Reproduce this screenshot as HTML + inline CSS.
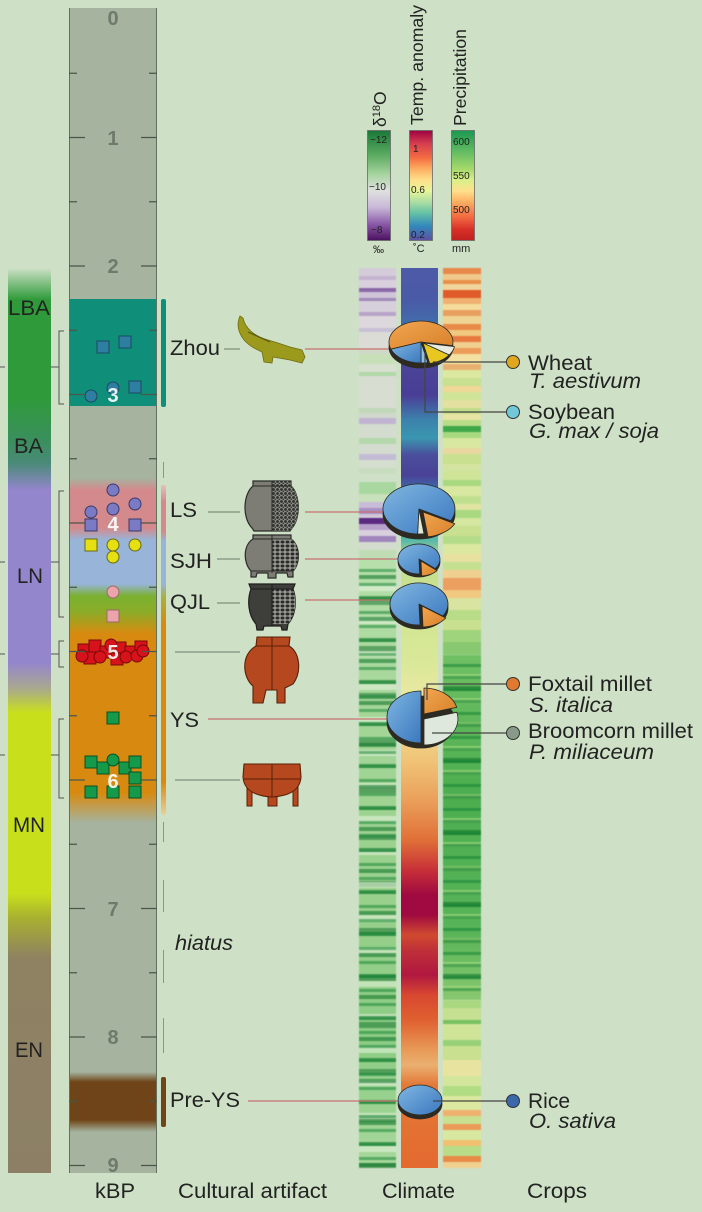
<!DOCTYPE html>
<html><head><meta charset="utf-8">
<style>
html,body{margin:0;padding:0;}
body{width:702px;height:1212px;background:#cee0c6;position:relative;overflow:hidden;font-family:"Liberation Sans",sans-serif;}
.a{position:absolute;}
.s{filter:blur(0.6px);}
</style></head><body>

<!-- era bar -->
<div class="a" style="left:8px;top:268px;width:43px;height:905px;background:linear-gradient(to bottom,#cee0c6 0px,#2e9a3a 32px,#2e9a3a 130px,#3a8f5c 172px,#4a8a78 195px,#9486cc 222px,#9486cc 395px,#a8a890 420px,#c8e01c 445px,#c8e01c 625px,#a8b030 650px,#8f8262 690px,#8c7f66 905px);"></div>

<!-- kBP column -->
<div class="a" style="left:69px;top:8px;width:88px;height:1165px;box-sizing:border-box;border-left:1px solid #62705f;border-right:1px solid #62705f;background:linear-gradient(to bottom,#a5b39f 0,#a5b39f 291px,#0f8f7a 291px,#0f8f7a 398px,#a5b39f 398px,#a5b39f 470px,#d48a8c 482px,#d48a8c 520px,#98b4d8 532px,#98b4d8 576px,#7ab030 588px,#8cac28 604px,#d88a10 626px,#d88a10 785px,#a5b39f 815px,#a5b39f 1064px,#6e4418 1074px,#6e4418 1112px,#a5b39f 1124px);"></div>

<!-- d18O column -->
<div class="a s" style="left:359px;top:268px;width:37px;height:290px;background:linear-gradient(to bottom,#d4ccd8 0 8px,#c4b4d0 8px 12px,#d8d0dc 12px 20px,#8a68a8 20px 24px,#cfc4d8 24px 30px,#a08ab8 30px 33px,#d6d0da 33px 44px,#b8a4c8 44px 48px,#dcd8dc 48px 60px,#c8c0d4 60px 64px,#dcdcd6 64px 80px,#d0d8c8 80px 86px,#c8e0b8 86px 96px,#d8e0d0 96px 104px,#b0d8a8 104px 108px,#d8ddd2 108px 140px,#c0d8b8 140px 145px,#d0d8cc 145px 150px,#c0b4d0 150px 156px,#d4dccf 156px 170px,#b4d8ac 170px 176px,#d4dcd0 176px 186px,#c4bcd4 186px 192px,#d6ded0 192px 200px,#c8dcc0 200px 206px,#d0e0c8 206px 214px,#a8d8a0 214px 226px,#c8e0bc 226px 234px,#c8bcd8 234px 240px,#a890c4 240px 246px,#d0c8d8 246px 250px,#5a2a80 250px 256px,#b8a0cc 256px 262px,#d8d0dc 262px 268px,#a084bc 268px 274px,#d4dcd0 274px 282px,#c0dcb4 282px 290px);"></div>
<div class="a s" style="left:359px;top:558px;width:37px;height:610px;background:repeating-linear-gradient(to bottom,transparent 0 11px,rgba(25,135,55,.55) 11px 14px),repeating-linear-gradient(to bottom,transparent 0 17px,rgba(20,120,45,.6) 17px 21px),repeating-linear-gradient(to bottom,transparent 0 27px,rgba(235,245,225,.55) 27px 33px),repeating-linear-gradient(to bottom,transparent 0 41px,rgba(15,110,40,.5) 41px 47px),linear-gradient(to bottom,#b8e0ac 0,#a4d698 150px,#98d08c 350px,#8ccc84 480px,#a8d89c 610px);"></div>

<!-- temperature column -->
<div class="a" style="left:401px;top:268px;width:37px;height:900px;background:linear-gradient(to bottom,#4d5aa8 0px,#4a5aa6 32px,#3f72ac 62px,#4a4598 92px,#4a3e96 127px,#3c82ac 152px,#3a96b0 170px,#4a4e9c 187px,#4a4296 207px,#3a7cb0 227px,#3aa0b0 252px,#58b8a8 272px,#c0dc90 292px,#d0e490 332px,#d8e898 392px,#e8e8a0 422px,#f0dc90 452px,#f0c478 492px,#eaa05a 532px,#e07038 572px,#c83038 602px,#a00a40 627px,#a00a40 647px,#d04a30 667px,#c03038 682px,#b01840 707px,#d84830 727px,#e06030 752px,#e89a58 782px,#eab070 797px,#e47838 817px,#e46a30 900px);"></div>

<!-- precipitation column -->
<div class="a s" style="left:443px;top:268px;width:38px;height:202px;background:linear-gradient(to bottom,#e8884a 0 6px,#f0c88c 6px 12px,#e8904a 12px 16px,#f0d49c 16px 22px,#e05a2a 22px 30px,#f0b070 30px 36px,#f4dc9c 36px 42px,#e8a060 42px 48px,#f0d494 48px 56px,#e88a48 56px 62px,#f0c880 62px 68px,#e87a40 68px 74px,#f0d090 74px 80px,#ec9c58 80px 86px,#f4e0a0 86px 96px,#e8b070 96px 102px,#dce8a0 102px 110px,#c8e090 110px 118px,#f0d898 118px 124px,#d0e498 124px 132px,#e4e0a0 132px 140px,#c0dc88 140px 146px,#e8e4a4 146px 152px,#b8dc88 152px 158px,#40a848 158px 164px,#a8d880 164px 170px,#d8e8a0 170px 180px,#e8d8a0 180px 186px,#c8e090 186px 196px,#d4e4a0 196px 202px);"></div>
<div class="a s" style="left:443px;top:470px;width:38px;height:185px;background:linear-gradient(to bottom,#d0e498 0 10px,#a8d880 10px 16px,#d8e8a0 16px 26px,#c0e090 26px 34px,#e0e4a0 34px 40px,#a8d880 40px 48px,#d4e6a0 48px 56px,#c8e090 56px 66px,#b4dc88 66px 74px,#dce8a0 74px 84px,#e8e0a0 84px 92px,#c4e090 92px 100px,#f0d090 100px 108px,#eca060 108px 120px,#f0c880 120px 128px,#d8e4a0 128px 140px,#b8dc88 140px 150px,#c8e090 150px 160px,#a0d47c 160px 172px,#88c870 172px 185px);"></div>
<div class="a s" style="left:443px;top:655px;width:38px;height:345px;background:repeating-linear-gradient(to bottom,transparent 0 9px,rgba(20,130,50,.55) 9px 12px),repeating-linear-gradient(to bottom,transparent 0 19px,rgba(170,220,130,.6) 19px 24px),repeating-linear-gradient(to bottom,transparent 0 31px,rgba(10,110,40,.55) 31px 36px),linear-gradient(#70c064,#4cae50 40%,#58b458 80%,#88c870);"></div>
<div class="a s" style="left:443px;top:1000px;width:38px;height:168px;background:linear-gradient(to bottom,#a8d880 0 8px,#c4e090 8px 20px,#78c060 20px 24px,#d0e498 24px 40px,#98d078 40px 46px,#c8e090 46px 60px,#e8e4a0 60px 76px,#d4e69c 76px 86px,#b0dc84 86px 96px,#dce8a0 96px 110px,#f0b070 110px 116px,#c8e090 116px 124px,#ec9a58 124px 130px,#d8e8a0 130px 140px,#f0c070 140px 146px,#b8dc88 146px 156px,#e88a48 156px 162px,#f0d090 162px 168px);"></div>

<svg class="a" style="left:0;top:0" width="702" height="1212" viewBox="0 0 702 1212" xmlns="http://www.w3.org/2000/svg" font-family="Liberation Sans, sans-serif">
<defs>
 <linearGradient id="gO" x1="0" y1="0" x2="0" y2="1"><stop offset="0" stop-color="#1a7838"/><stop offset=".22" stop-color="#5aaa60"/><stop offset=".4" stop-color="#a8d4a0"/><stop offset=".55" stop-color="#e0e0e0"/><stop offset=".7" stop-color="#c8b8d8"/><stop offset=".85" stop-color="#8a5aa8"/><stop offset="1" stop-color="#4a1060"/></linearGradient>
 <linearGradient id="gT" x1="0" y1="0" x2="0" y2="1"><stop offset="0" stop-color="#9e0142"/><stop offset=".12" stop-color="#d53e4f"/><stop offset=".25" stop-color="#f46d43"/><stop offset=".35" stop-color="#fdae61"/><stop offset=".45" stop-color="#fee08b"/><stop offset=".55" stop-color="#e6f598"/><stop offset=".65" stop-color="#abdda4"/><stop offset=".75" stop-color="#66c2a5"/><stop offset=".87" stop-color="#3288bd"/><stop offset="1" stop-color="#5e4fa2"/></linearGradient>
 <linearGradient id="gP" x1="0" y1="0" x2="0" y2="1"><stop offset="0" stop-color="#1a9850"/><stop offset=".2" stop-color="#66bd63"/><stop offset=".35" stop-color="#a6d96a"/><stop offset=".45" stop-color="#d9ef8b"/><stop offset=".55" stop-color="#fee08b"/><stop offset=".65" stop-color="#fdae61"/><stop offset=".78" stop-color="#f46d43"/><stop offset=".9" stop-color="#d73027"/><stop offset="1" stop-color="#c02020"/></linearGradient>
 <linearGradient id="gBar" x1="0" y1="0" x2="0" y2="1"><stop offset="0" stop-color="#e0c0c0"/><stop offset=".05" stop-color="#d48a8c"/><stop offset=".14" stop-color="#d48a8c"/><stop offset=".17" stop-color="#98b4d8"/><stop offset=".30" stop-color="#98b4d8"/><stop offset=".34" stop-color="#a8b040"/><stop offset=".42" stop-color="#d88a10"/><stop offset=".9" stop-color="#d88a10"/><stop offset="1" stop-color="#e8d0a0"/></linearGradient>
 <linearGradient id="pb" x1="0" y1="0" x2="1" y2="1"><stop offset="0" stop-color="#80b6e0"/><stop offset="1" stop-color="#3a78c0"/></linearGradient>
 <linearGradient id="po" x1="0" y1="0" x2="1" y2="1"><stop offset="0" stop-color="#f2a650"/><stop offset="1" stop-color="#d8802a"/></linearGradient>
 <pattern id="tex" width="4" height="4" patternUnits="userSpaceOnUse"><rect width="4" height="4" fill="#8a8a84"/><circle cx="1.5" cy="1.5" r="1.4" fill="#2e2e2c"/><circle cx="3.5" cy="3.5" r="1" fill="#3a3a36"/></pattern>
 <pattern id="tex2" width="5" height="4" patternUnits="userSpaceOnUse"><rect width="5" height="4" fill="#9a9a94"/><ellipse cx="2.5" cy="2" rx="2" ry="1.5" fill="#2a2a28"/></pattern>
 <clipPath id="cR"><rect x="272" y="470" width="40" height="170"/></clipPath>
</defs>

<!-- left small ticks and brackets -->
<g stroke="#555" stroke-width="1" fill="none">
 <path d="M0,367H5M51,367H59M0,562H5M51,562H59M0,654H5M51,654H59M0,755H5M51,755H59"/>
 <path d="M64,331H59V404H64M64,491H59V617H64M64,641H59V667H64M64,719H59V798H64"/>
</g>

<!-- era labels -->
<g font-size="21" fill="#222">
 <text x="8" y="315" textLength="42" lengthAdjust="spacingAndGlyphs">LBA</text>
 <text x="14" y="453" textLength="29" lengthAdjust="spacingAndGlyphs">BA</text>
 <text x="17" y="583" textLength="26" lengthAdjust="spacingAndGlyphs">LN</text>
 <text x="13" y="832" textLength="32" lengthAdjust="spacingAndGlyphs">MN</text>
 <text x="15" y="1057" textLength="28" lengthAdjust="spacingAndGlyphs">EN</text>
</g>

<!-- right thin bars -->
<rect x="161" y="299" width="5" height="108" rx="2" fill="#0f8f7a"/>
<rect x="161" y="485" width="5" height="330" rx="2" fill="url(#gBar)"/>
<rect x="161" y="1077" width="5" height="50" rx="2" fill="#6e4418"/>
<path d="M163.5,462V478M163.5,822V842M163.5,880V912M163.5,950V983M163.5,1018V1053" stroke="#8a968a" stroke-width="1"/>

<!-- markers Zhou -->
<g fill="#2e7ea2" stroke="#184a60" stroke-width="1">
 <rect x="97" y="341" width="12" height="12"/><rect x="119" y="336" width="12" height="12"/><rect x="129" y="381" width="12" height="12"/>
 <circle cx="91" cy="396" r="6"/><circle cx="113" cy="388" r="6"/>
</g>
<g fill="#7b7ac4" stroke="#3a3a6a" stroke-width="1">
 <circle cx="113" cy="490" r="6"/><circle cx="91" cy="512" r="6"/><circle cx="113" cy="509" r="6"/><circle cx="135" cy="504" r="6"/>
 <rect x="85" y="519" width="12" height="12"/><rect x="129" y="519" width="12" height="12"/>
</g>
<g fill="#e6e010" stroke="#6a6a10" stroke-width="1">
 <rect x="85" y="539" width="12" height="12"/><circle cx="113" cy="545" r="6"/><circle cx="135" cy="545" r="6"/><circle cx="113" cy="557" r="6"/>
</g>
<g fill="#eca4ac" stroke="#9a6a6a" stroke-width="1">
 <circle cx="113" cy="592" r="6"/><rect x="107" y="610" width="12" height="12"/>
</g>
<g fill="#d6121a" stroke="#7a0808" stroke-width="1">
 <rect x="78" y="644" width="12" height="12"/><rect x="89" y="640" width="12" height="12"/><rect x="100" y="646" width="12" height="12"/><rect x="114" y="642" width="12" height="12"/><rect x="125" y="646" width="12" height="12"/><rect x="135" y="641" width="12" height="12"/>
 <rect x="84" y="652" width="12" height="12"/><rect x="111" y="653" width="12" height="12"/>
 <circle cx="100" cy="657" r="6"/><circle cx="111" cy="645" r="6"/><circle cx="126" cy="657" r="6"/><circle cx="137" cy="656" r="6"/><circle cx="143" cy="651" r="6"/><circle cx="82" cy="656" r="6"/>
</g>
<g fill="#149a4a" stroke="#0a5020" stroke-width="1">
 <rect x="107" y="712" width="12" height="12"/>
 <rect x="85" y="756" width="12" height="12"/><rect x="97" y="762" width="12" height="12"/><rect x="119" y="762" width="12" height="12"/><rect x="129" y="756" width="12" height="12"/><rect x="129" y="772" width="12" height="12"/>
 <rect x="85" y="786" width="12" height="12"/><rect x="107" y="786" width="12" height="12"/><rect x="129" y="786" width="12" height="12"/>
 <circle cx="113" cy="760" r="6"/>
</g>

<!-- ticks -->
<g stroke="#4a564a" stroke-width="1.3">
 <path d="M69,137.5H85M141,137.5H157M69,266H85M141,266H157M69,394.5H85M141,394.5H157M69,523H85M141,523H157M69,651.5H85M141,651.5H157M69,780H85M141,780H157M69,908.5H85M141,908.5H157M69,1037H85M141,1037H157M69,1165.5H85M141,1165.5H157"/>
 <path d="M69,73.25H77M149,73.25H157M69,201.75H77M149,201.75H157M69,330.25H77M149,330.25H157M69,458.75H77M149,458.75H157M69,587.25H77M149,587.25H157M69,715.75H77M149,715.75H157M69,844.25H77M149,844.25H157M69,972.75H77M149,972.75H157M69,1101.25H77M149,1101.25H157"/>
</g>
<g font-size="20" font-weight="bold" text-anchor="middle" fill="#6f7a6c">
 <text x="113" y="25">0</text><text x="113" y="145">1</text><text x="113" y="273">2</text>
 <text x="113" y="916">7</text><text x="113" y="1044">8</text><text x="113" y="1172">9</text>
</g>
<g font-size="20" font-weight="bold" text-anchor="middle" fill="#ffffff" fill-opacity="0.9">
 <text x="113" y="402">3</text><text x="113" y="531">4</text><text x="113" y="659">5</text><text x="113" y="788">6</text>
</g>

<!-- artifact labels -->
<g font-size="21" fill="#222">
 <text x="170" y="355" textLength="50" lengthAdjust="spacingAndGlyphs">Zhou</text>
 <text x="170" y="517" textLength="27" lengthAdjust="spacingAndGlyphs">LS</text>
 <text x="170" y="568" textLength="42" lengthAdjust="spacingAndGlyphs">SJH</text>
 <text x="170" y="609" textLength="40" lengthAdjust="spacingAndGlyphs">QJL</text>
 <text x="170" y="727" textLength="29" lengthAdjust="spacingAndGlyphs">YS</text>
 <text x="175" y="950" font-style="italic" textLength="58" lengthAdjust="spacingAndGlyphs">hiatus</text>
 <text x="170" y="1107" textLength="70" lengthAdjust="spacingAndGlyphs">Pre-YS</text>
 <text x="95" y="1198" textLength="40" lengthAdjust="spacingAndGlyphs">kBP</text>
 <text x="178" y="1198" textLength="149" lengthAdjust="spacingAndGlyphs">Cultural artifact</text>
 <text x="382" y="1198" textLength="73" lengthAdjust="spacingAndGlyphs">Climate</text>
 <text x="527" y="1198" textLength="60" lengthAdjust="spacingAndGlyphs">Crops</text>
</g>

<!-- gray connectors -->
<path d="M224,349H240M208,512H240M217,559H240M217,603H240M175,652H240M175,780H240" stroke="#7e8e7e" stroke-width="1.2"/>

<!-- artifacts -->
<path d="M240,316 C235,327 240,341 256,349 L262,352 L264,362 L272,363 L273,357 L290,360 L302,363 L305,357 L302,350 L290,347 L278,343 L268,340 C254,336 245,328 243,318 Z" fill="#9c9a1c" stroke="#6e6c10" stroke-width="0.8"/>
<path d="M248,332 L270,342" stroke="#5a5a10" stroke-width="1.2"/>

<!-- LS pot -->
<path d="M253,481 L291,481 L291,486 C300,494 301,518 292,528 L290,531 L254,531 L252,528 C242,518 243,494 253,486 Z" fill="#7d7d76" stroke="#2a2a28" stroke-width="1.2"/>
<path d="M253,481 L291,481 L291,486 C300,494 301,518 292,528 L290,531 L254,531 L252,528 C242,518 243,494 253,486 Z" fill="url(#tex)" clip-path="url(#cR)"/>
<path d="M272,481V531M253,486H291" stroke="#2a2a28" stroke-width="1"/>
<!-- SJH pot -->
<path d="M253,535 L291,535 L291,539 C300,545 301,563 293,571 L293,577 L288,577 L287,573 L276,573 L276,578 L268,578 L268,573 L257,573 L256,577 L251,577 L251,571 C243,563 243,545 253,539 Z" fill="#7d7d76" stroke="#2a2a28" stroke-width="1.2"/>
<path d="M272,539 L291,539 C300,545 301,563 293,571 L272,571 Z" fill="url(#tex2)"/>
<path d="M272,535V573M253,539H291M251,571H293" stroke="#2a2a28" stroke-width="1"/>
<!-- QJL pot -->
<path d="M249,584 L295,584 L293,589 C297,600 296,615 288,624 L287,630 L282,630 L281,626 L264,626 L263,630 L257,630 L256,624 C248,615 247,600 251,589 Z" fill="#3e3e3a" stroke="#1e1e1c" stroke-width="1.2"/>
<path d="M272,589 L293,589 C297,600 296,615 288,624 L272,624 Z" fill="url(#tex2)"/>
<path d="M272,584V626M251,589H293" stroke="#1e1e1c" stroke-width="1"/>
<!-- red pot -->
<path d="M257,637 L290,637 L289,646 C300,652 302,672 293,684 L285,688 L285,703 L277,703 L277,690 L266,690 L263,703 L253,703 L253,686 C243,678 240,655 256,646 Z" fill="#b5481e" stroke="#5a2008" stroke-width="1.1"/>
<path d="M272,637V690M256,646H289" stroke="#5a2008" stroke-width="1"/>
<!-- YS tripod -->
<rect x="247" y="786" width="5" height="20" fill="#b5481e" stroke="#5a2008" stroke-width="1"/>
<rect x="268" y="792" width="9" height="14" fill="#b5481e" stroke="#5a2008" stroke-width="1"/>
<rect x="293" y="786" width="5" height="20" fill="#b5481e" stroke="#5a2008" stroke-width="1"/>
<path d="M244,764 L300,764 L301,777 C300,790 290,796 272,797 C254,796 244,790 243,777 Z" fill="#b5481e" stroke="#5a2008" stroke-width="1.1"/>
<path d="M272,764V797M244,779H300" stroke="#5a2008" stroke-width="1"/>

<!-- legend -->
<rect x="367.5" y="130.5" width="23" height="110" fill="url(#gO)" stroke="#6a6a6a" stroke-width="0.8"/>
<rect x="409.5" y="130.5" width="23" height="110" fill="url(#gT)" stroke="#6a6a6a" stroke-width="0.8"/>
<rect x="451.5" y="130.5" width="23" height="110" fill="url(#gP)" stroke="#6a6a6a" stroke-width="0.8"/>
<g font-size="10" fill="#222">
 <text x="370" y="143">−12</text><text x="369" y="190">−10</text><text x="371" y="233">−8</text>
 <text x="413" y="152">1</text><text x="411" y="193">0.6</text><text x="411" y="238">0.2</text>
 <text x="453" y="145">600</text><text x="453" y="179">550</text><text x="453" y="213">500</text>
 <text x="373" y="253" font-size="11">‰</text><text x="413" y="252" font-size="11">˚C</text><text x="452" y="252" font-size="11">mm</text>
</g>
<g font-size="17.5" fill="#222">
 <text transform="translate(386,127) rotate(-90)">δ<tspan dy="-6" font-size="11">18</tspan><tspan dy="6">O</tspan></text>
 <text transform="translate(423,125) rotate(-90)" textLength="120" lengthAdjust="spacingAndGlyphs">Temp. anomaly</text>
 <text transform="translate(466,126) rotate(-90)" textLength="97" lengthAdjust="spacingAndGlyphs">Precipitation</text>
</g>

<!-- red connectors -->
<path d="M305,349H395M305,512H390M305,559H402M305,600H395M208,719H392M248,1101H400" stroke="#c87272" stroke-width="1.3"/>

<!-- pies -->
<g stroke="#2a2a22" stroke-width="0.8" stroke-linejoin="round">
 <ellipse cx="421" cy="347" rx="32" ry="21" fill="#2e2a22"/>
 <path d="M421,342 L390.9,349.2 A32,21 0 1 1 452.5,345.6 Z" fill="url(#po)"/>
 <path d="M423,343 L454.5,346.6 A32,21 0 0 1 449.2,355 Z" fill="#e8ece0"/>
 <path d="M423,343 L449.2,355 A32,21 0 0 1 429.7,363.5 Z" fill="#e8c820"/>
 <path d="M421,342 L427.7,362.5 A32,21 0 0 1 421,363 Z" fill="#8ac0e8"/>
 <path d="M421,342 L421,363 A32,21 0 0 1 390.9,349.2 Z" fill="url(#pb)"/>
 <ellipse cx="419" cy="514" rx="36" ry="25" fill="#2e2a22"/>
 <path d="M419,509 L417.7,534 A36,25 0 1 1 450.8,520.7 Z" fill="url(#pb)"/>
 <path d="M419,509 L424,533.8 A36,25 0 0 1 417.7,534 Z" fill="#e0e8d8"/>
 <path d="M423,512 L454.8,523.7 A36,25 0 0 1 428,536.8 Z" fill="url(#po)"/>
 <ellipse cx="419" cy="562" rx="21" ry="15" fill="#2e2a22"/>
 <path d="M419,559 L419.7,574 A21,15 0 1 1 435.1,568.6 Z" fill="url(#pb)"/>
 <path d="M421,561 L437.1,570.6 A21,15 0 0 1 421.7,576 Z" fill="url(#po)"/>
 <ellipse cx="419" cy="608" rx="29" ry="21" fill="#2e2a22"/>
 <path d="M419,604 L420,625 A29,21 0 1 1 442.8,616 Z" fill="url(#pb)"/>
 <path d="M422,606 L445.8,618 A29,21 0 0 1 423,627 Z" fill="url(#po)"/>
 <ellipse cx="421" cy="722" rx="34" ry="26" fill="#2e2a22"/>
 <path d="M421,717 L421,743 A34,26 0 0 1 421,691 Z" fill="url(#pb)"/>
 <path d="M424,714 L424,688 A34,26 0 0 1 456.8,707.3 Z" fill="url(#po)"/>
 <path d="M424,719 L456.8,712.3 A34,26 0 0 1 424,745 Z" fill="#dfe8dc"/>
 <ellipse cx="420" cy="1104" rx="22" ry="15" fill="#2e2a22"/>
 <ellipse cx="420" cy="1100" rx="22" ry="15" fill="url(#pb)"/>
</g>

<!-- crop connectors -->
<g stroke="#444" stroke-width="1.2" fill="none">
 <path d="M433,362H507M425,352V412H507M427,700V684H507M432,733H507M433,1101H507"/>
</g>
<g stroke="#333" stroke-width="1">
 <circle cx="513" cy="362" r="6.5" fill="#e0a820"/>
 <circle cx="513" cy="412" r="6.5" fill="#70c8d8"/>
 <circle cx="513" cy="684" r="6.5" fill="#e07a30"/>
 <circle cx="513" cy="733" r="6.5" fill="#8a9a8a"/>
 <circle cx="513" cy="1101" r="6.5" fill="#3a68a8"/>
</g>
<g font-size="21" fill="#222">
 <text x="528" y="370" textLength="64" lengthAdjust="spacingAndGlyphs">Wheat</text>
 <text x="529" y="388" font-style="italic" textLength="112" lengthAdjust="spacingAndGlyphs">T. aestivum</text>
 <text x="528" y="419" textLength="87" lengthAdjust="spacingAndGlyphs">Soybean</text>
 <text x="529" y="438" font-style="italic" textLength="130" lengthAdjust="spacingAndGlyphs">G. max / soja</text>
 <text x="528" y="691" textLength="124" lengthAdjust="spacingAndGlyphs">Foxtail millet</text>
 <text x="529" y="712" font-style="italic" textLength="84" lengthAdjust="spacingAndGlyphs">S. italica</text>
 <text x="528" y="738" textLength="165" lengthAdjust="spacingAndGlyphs">Broomcorn millet</text>
 <text x="529" y="759" font-style="italic" textLength="125" lengthAdjust="spacingAndGlyphs">P. miliaceum</text>
 <text x="528" y="1108" textLength="42" lengthAdjust="spacingAndGlyphs">Rice</text>
 <text x="529" y="1128" font-style="italic" textLength="87" lengthAdjust="spacingAndGlyphs">O. sativa</text>
</g>
</svg>
</body></html>
